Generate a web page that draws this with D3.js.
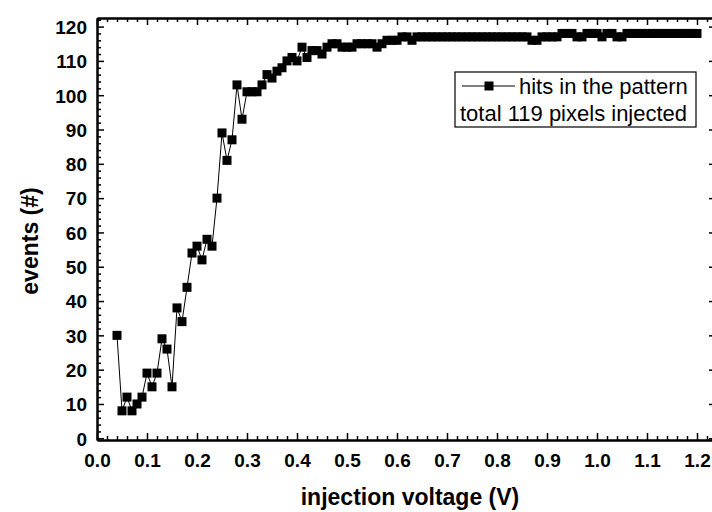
<!DOCTYPE html>
<html>
<head>
<meta charset="utf-8">
<script src="https://cdn.jsdelivr.net/npm/d3@7"></script>
<style>
  html, body { margin: 0; padding: 0; background: #fff; }
  svg { display: block; }
</style>
</head>
<body>
<svg id="chart" width="712" height="512"></svg>
<script>
// ---- data ----
const voltages = [
  0.04,0.05,0.06,0.07,0.08,0.09,0.10,0.11,0.12,0.13,0.14,0.15,0.16,0.17,0.18,0.19,
  0.20,0.21,0.22,0.23,0.24,0.25,0.26,0.27,0.28,0.29,0.30,0.31,0.32,0.33,0.34,0.35,
  0.36,0.37,0.38,0.39,0.40,0.41,0.42,0.43,0.44,0.45,0.46,0.47,0.48,0.49,0.50,0.51,
  0.52,0.53,0.54,0.55,0.56,0.57,0.58,0.59,0.60,0.61,0.62,0.63,0.64,0.65,0.66,0.67,
  0.68,0.69,0.70,0.71,0.72,0.73,0.74,0.75,0.76,0.77,0.78,0.79,0.80,0.81,0.82,0.83,
  0.84,0.85,0.86,0.87,0.88,0.89,0.90,0.91,0.92,0.93,0.94,0.95,0.96,0.97,0.98,0.99,
  1.00,1.01,1.02,1.03,1.04,1.05,1.06,1.07,1.08,1.09,1.10,1.11,1.12,1.13,1.14,1.15,
  1.16,1.17,1.18,1.19,1.20
];
const hits = [
  30,8,12,8,10,12,19,15,19,29,26,15,38,34,44,54,
  56,52,58,56,70,89,81,87,103,93,101,101,101,103,106,105,
  107,108,110,111,110,114,111,113,113,112,114,115,115,114,114,114,
  115,115,115,115,114,115,116,116,116,117,117,116,117,117,117,117,
  117,117,117,117,117,117,117,117,117,117,117,117,117,117,117,117,
  117,117,117,116,116,117,117,117,117,118,118,118,117,117,118,118,
  118,117,118,118,117,117,118,118,118,118,118,118,118,118,118,118,
  118,118,118,118,118
];
const xMajorTicks = [0.0,0.1,0.2,0.3,0.4,0.5,0.6,0.7,0.8,0.9,1.0,1.1,1.2];
const yMajorTicks = [0,10,20,30,40,50,60,70,80,90,100,110,120];
const xTitle = "injection voltage (V)";
const yTitle = "events (#)";
const legendLines = ["hits in the pattern", "total 119 pixels injected"];

// ---- layout ----
const svg = d3.select("#chart");
const pL = 97, pR = 716, pT = 18, pB = 440;
const x = d3.scaleLinear().domain([0, 1.238]).range([pL, pR]);
const y = d3.scaleLinear().domain([-0.5, 122.5]).range([pB, pT]);

const xMinor = d3.range(0, 1.239, 0.02).map(v => +v.toFixed(2)).filter(v => !xMajorTicks.some(m => Math.abs(m - v) < 1e-6));
const yMinor = d3.range(0, 122.5, 2).filter(v => v % 10 !== 0);

const fontFam = "'Liberation Sans', Arial, Helvetica, sans-serif";

function addAxis(gen, transform) {
  const g = svg.append("g").attr("transform", transform).call(gen);
  g.select(".domain").attr("stroke", "#000").attr("stroke-width", 2);
  g.selectAll(".tick line").attr("stroke", "#000").attr("stroke-width", 1.5);
  return g;
}

// bottom
addAxis(d3.axisBottom(x).tickValues(xMinor).tickSize(-4).tickFormat("").tickSizeOuter(0), `translate(0,${pB})`);
const gx = addAxis(d3.axisBottom(x).tickValues(xMajorTicks).tickSize(-7).tickSizeOuter(0).tickFormat(d3.format(".1f")), `translate(0,${pB})`);
gx.selectAll(".tick text").attr("y", 27).attr("dy", null)
  .attr("font-family", fontFam).attr("font-weight", "bold").attr("font-size", 19).attr("fill", "#000");
// top
addAxis(d3.axisTop(x).tickValues(xMinor).tickSize(-4).tickFormat("").tickSizeOuter(0), `translate(0,${pT})`);
addAxis(d3.axisTop(x).tickValues(xMajorTicks).tickSize(-7).tickFormat("").tickSizeOuter(0), `translate(0,${pT})`);
// left
addAxis(d3.axisLeft(y).tickValues(yMinor).tickSize(-4).tickFormat("").tickSizeOuter(0), `translate(${pL},0)`);
const gy = addAxis(d3.axisLeft(y).tickValues(yMajorTicks).tickSize(-7).tickSizeOuter(0), `translate(${pL},0)`);
gy.selectAll(".tick text").attr("x", -10).attr("dy", "0.36em")
  .attr("font-family", fontFam).attr("font-weight", "bold").attr("font-size", 19).attr("fill", "#000");
// right
addAxis(d3.axisRight(y).tickValues(yMinor).tickSize(-4).tickFormat("").tickSizeOuter(0), `translate(${pR},0)`);
addAxis(d3.axisRight(y).tickValues(yMajorTicks).tickSize(-7).tickFormat("").tickSizeOuter(0), `translate(${pR},0)`);

// data
const data = voltages.map((v, i) => ({ v, h: hits[i] }));
svg.append("path")
  .datum(data)
  .attr("fill", "none").attr("stroke", "#000").attr("stroke-width", 1)
  .attr("d", d3.line().x(d => x(d.v)).y(d => y(d.h)));
const ms = 9;
svg.append("g").selectAll("rect").data(data).join("rect")
  .attr("x", d => x(d.v) - ms / 2).attr("y", d => y(d.h) - ms / 2)
  .attr("width", ms).attr("height", ms).attr("fill", "#000");

// titles
svg.append("text").attr("x", 410).attr("y", 505)
  .attr("text-anchor", "middle").attr("font-family", fontFam).attr("font-weight", "bold")
  .attr("font-size", 23).text(xTitle);
svg.append("text").attr("transform", `translate(38,241) rotate(-90)`)
  .attr("text-anchor", "middle").attr("font-family", fontFam).attr("font-weight", "bold")
  .attr("font-size", 23).text(yTitle);

// legend
const lg = svg.append("g");
lg.append("rect").attr("x", 455).attr("y", 72).attr("width", 241).attr("height", 55)
  .attr("fill", "#fff").attr("stroke", "#000").attr("stroke-width", 1.2);
lg.append("line").attr("x1", 462).attr("x2", 515).attr("y1", 86).attr("y2", 86)
  .attr("stroke", "#000").attr("stroke-width", 1.2);
lg.append("rect").attr("x", 489 - 4.5).attr("y", 86 - 4.5).attr("width", 9).attr("height", 9).attr("fill", "#000");
lg.append("text").attr("x", 519).attr("y", 94).attr("font-family", fontFam).attr("font-size", 22)
  .text(legendLines[0]);
lg.append("text").attr("x", 460).attr("y", 121).attr("font-family", fontFam).attr("font-size", 22)
  .text(legendLines[1]);
</script>
</body>
</html>
